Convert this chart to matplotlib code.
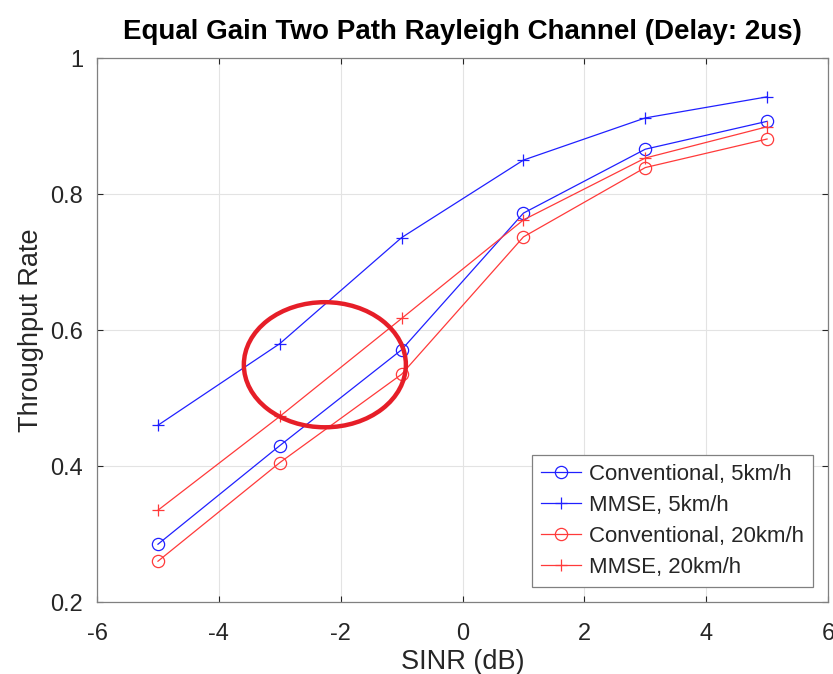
import matplotlib
matplotlib.use('Agg')
import matplotlib.pyplot as plt
from matplotlib.patches import Ellipse

plt.rcParams['font.family'] = ['Liberation Sans', 'DejaVu Sans']
plt.rcParams['axes.unicode_minus'] = False

# SINR points (dB)
sinr = [-5, -3, -1, 1, 3, 5]

# throughput
conv_5 = [0.285, 0.430, 0.571, 0.772, 0.866, 0.907]
mmse_5 = [0.460, 0.580, 0.736, 0.850, 0.912, 0.943]
conv_20 = [0.260, 0.405, 0.535, 0.737, 0.839, 0.881]
mmse_20 = [0.335, 0.473, 0.617, 0.762, 0.853, 0.899]

fig = plt.figure(figsize=(8.33, 6.74), dpi=100)
ax = fig.add_axes([0.1165, 0.1068, 0.8775, 0.807])

blue = '#2020ff'
red = '#ff3a3a'
ax.plot(sinr, conv_5, color=blue, marker='o', mfc='none', ms=8.8, lw=0.9, mew=0.9, label='Conventional, 5km/h')
ax.plot(sinr, mmse_5, color=blue, marker='+', ms=8.5, lw=0.9, mew=0.9, label='MMSE, 5km/h')
ax.plot(sinr, conv_20, color=red, marker='o', mfc='none', ms=8.8, lw=0.9, mew=0.9, label='Conventional, 20km/h')
ax.plot(sinr, mmse_20, color=red, marker='+', ms=8.5, lw=0.9, mew=0.9, label='MMSE, 20km/h')

# hand drawn circle highlight
ax.add_patch(Ellipse((-2.26, 0.549), 2.66, 0.184, fill=False, ec='#e61e28', lw=3.2, zorder=5))

ax.set_xlim(-6, 6)
ax.set_ylim(0.2, 1)
ax.set_xticks([-6, -4, -2, 0, 2, 4, 6])
ax.set_yticks([0.2, 0.4, 0.6, 0.8, 1])
ax.set_yticklabels(['0.2', '0.4', '0.6', '0.8', '1'])
ax.grid(True, color='#e3e3e3', lw=0.8)
ax.set_axisbelow(True)
ax.tick_params(direction='in', top=True, right=True, labelsize=17, length=4,
               width=0.8, color='#262626', labelcolor='#262626')
ax.tick_params(axis='x', pad=15)
ax.tick_params(axis='y', pad=10)
for s in ax.spines.values():
    s.set_color('#808080')
    s.set_linewidth(0.9)

ax.set_xlabel('SINR (dB)', fontsize=19.5, labelpad=3, color='#262626')
ax.set_ylabel('Throughput Rate', fontsize=19.5, labelpad=4.5, color='#262626')
ax.set_title('Equal Gain Two Path Rayleigh Channel (Delay: 2us)', fontsize=20,
             fontweight='bold', pad=14)

leg = ax.legend(loc='lower right', fontsize=16, fancybox=False, framealpha=1,
                edgecolor='#808080', borderaxespad=0.68, handlelength=1.8,
                handletextpad=0.35, labelspacing=0.45, borderpad=0.4)
leg.get_frame().set_linewidth(0.9)
for t in leg.get_texts():
    t.set_color('#262626')

fig.savefig('out.png', dpi=100)
